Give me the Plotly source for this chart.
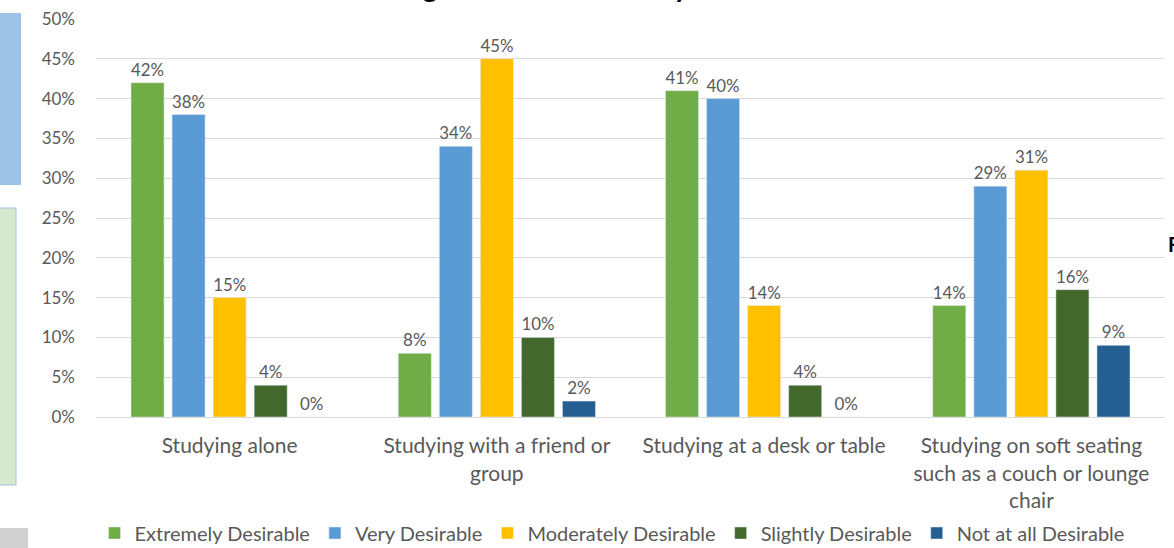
import plotly.graph_objects as go

categories = [
    "Studying alone",
    "Studying with a friend or<br>group",
    "Studying at a desk or table",
    "Studying on soft seating<br>such as a couch or lounge<br>chair",
]
series_names = ["Extremely Desirable", "Very Desirable", "Moderately Desirable",
                "Slightly Desirable", "Not at all Desirable"]
extremely = [0.42, 0.08, 0.41, 0.14]
very = [0.38, 0.34, 0.40, 0.29]
moderately = [0.15, 0.45, 0.14, 0.31]
slightly = [0.04, 0.10, 0.04, 0.16]
not_at_all = [0.00, 0.02, 0.00, 0.09]
colors = ["#70AD47", "#5B9BD5", "#FFC000", "#43682B", "#255E91"]
tick_vals = [0, 0.05, 0.10, 0.15, 0.20, 0.25, 0.30, 0.35, 0.40, 0.45, 0.50]

W, H = 1174, 548
L, R, T, B = 96, 9, 19, 131
pw, ph = W - L - R, H - T - B

def px(x):
    return (x - L) / pw

def py(y):
    return (H - B - y) / ph

FONT = "Lato"
GRAY = "#595959"

fig = go.Figure()
for name, vals, col in zip(series_names, [extremely, very, moderately, slightly, not_at_all], colors):
    fig.add_trace(go.Bar(
        name=name, x=categories, y=vals, marker_color=col,
        text=[f"{v:.0%}" for v in vals], textposition="outside",
        textfont=dict(family=FONT, size=17, color=GRAY),
        cliponaxis=False,
    ))

shapes = [
    dict(type="rect", xref="paper", yref="paper", x0=px(0), x1=px(21), y0=py(185), y1=py(13),
         fillcolor="#9DC3E6", line=dict(width=0), layer="below"),
    dict(type="rect", xref="paper", yref="paper", x0=px(-2), x1=px(16), y0=py(485), y1=py(208),
         fillcolor="#D7E9CC", line=dict(width=1, color="#9DC3E6"), layer="below"),
    dict(type="rect", xref="paper", yref="paper", x0=px(0), x1=px(28), y0=py(548), y1=py(528),
         fillcolor="#D0D0D0", line=dict(width=0), layer="below"),
]

annotations = [
    dict(text="Ratings of Individual Study Environments", xref="paper", yref="paper",
         x=px(355), y=py(5), xanchor="left", yanchor="bottom", showarrow=False,
         font=dict(family=FONT, size=28, color="#000000", weight="bold")),
    dict(text="F", xref="paper", yref="paper", x=px(1166), y=py(244), xanchor="left",
         yanchor="middle", showarrow=False,
         font=dict(family=FONT, size=20, color="#000000", weight="bold")),
]

fig.update_layout(
    width=W, height=H,
    margin=dict(l=L, r=R, t=T, b=B, autoexpand=False),
    paper_bgcolor="white", plot_bgcolor="white",
    barmode="group", bargap=0.232, bargroupgap=0.195,
    font=dict(family=FONT, color=GRAY),
    showlegend=True,
    legend=dict(orientation="h", xref="container", yref="container",
                x=612 / W, xanchor="center", y=(H - 533) / H, yanchor="middle",
                font=dict(family=FONT, size=20, color=GRAY), traceorder="normal",
                itemwidth=30, tracegroupgap=0, bgcolor="rgba(0,0,0,0)"),
    shapes=shapes,
    annotations=annotations,
    xaxis=dict(tickfont=dict(family=FONT, size=21, color=GRAY), showline=True,
               linecolor="#D9D9D9", linewidth=1, ticks="", ticklabelstandoff=10),
    yaxis=dict(range=[0, 0.5], tickvals=tick_vals, tickformat=".0%",
               tickfont=dict(family=FONT, size=17, color=GRAY),
               gridcolor="#D9D9D9", gridwidth=1, zeroline=False, ticks="",
               ticklabelstandoff=20),
)

fig.write_html("out.html")
